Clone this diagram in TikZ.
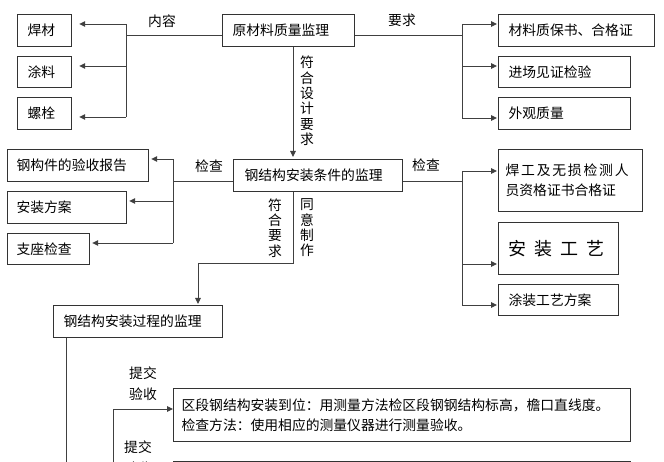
\documentclass[tikz,border=0pt]{standalone}
\usepackage{fontspec}
\newfontfamily\cjk{Noto Sans CJK SC}
\usetikzlibrary{arrows.meta}
\tikzset{
  box/.style={draw=black!80, line width=1.2pt, anchor=north west, inner xsep=10pt, inner ysep=0pt,
    align=left, font=\cjk\fontsize{13.8}{20}\selectfont},
  lbl/.style={inner sep=0pt, align=center, font=\cjk\fontsize{13.8}{21}\selectfont},
  vlbl/.style={inner sep=0pt, align=center, font=\cjk\fontsize{13.8}{15.4}\selectfont},
  ln/.style={draw=black!75, line width=0.9pt},
  arr/.style={ln, -{Triangle[length=6pt,width=5.5pt]}}
}
\begin{document}
\begin{tikzpicture}[x=1pt,y=-1pt]
\useasboundingbox (0,0) rectangle (664,462);
\fill[white] (0,0) rectangle (664,462);
\clip (0,0) rectangle (664,462);
% boxes
\node[box, minimum width=54pt, minimum height=32pt, text width=34pt] (hc) at (17,14) {焊材};
\node[box, minimum width=54pt, minimum height=31pt, text width=34pt] (tl) at (17,56) {涂料};
\node[box, minimum width=54pt, minimum height=32pt, text width=34pt] (ls) at (17,97) {螺栓};
\node[box, minimum width=132pt, minimum height=32pt, text width=112pt] (ycl) at (222,14) {原材料质量监理};
\node[box, minimum width=156pt, minimum height=32pt, text width=136pt] (zb) at (498,14) {材料质保书、合格证};
\node[box, minimum width=132pt, minimum height=31pt, text width=112pt] (jc) at (498,56) {进场见证检验};
\node[box, minimum width=132pt, minimum height=32pt, text width=112pt] (wg) at (498,97) {外观质量};
\node[box, minimum width=141pt, minimum height=32pt, text width=123pt, inner xsep=9pt] (gj) at (7,149) {钢构件的验收报告};
\node[box, minimum width=119pt, minimum height=32pt, text width=101pt, inner xsep=9pt] (az) at (7,191) {安装方案};
\node[box, minimum width=82pt, minimum height=31pt, text width=64pt, inner xsep=9pt] (zz) at (7,233) {支座检查};
\node[box, minimum width=169pt, minimum height=32pt, text width=147pt, inner xsep=11pt] (tj) at (233,159) {钢结构安装条件的监理};
\node[box, minimum width=144pt, minimum height=62pt, text width=130pt, inner xsep=7pt] (hg) at (498,149)
  {焊\hspace{1.8pt}工\hspace{1.8pt}及\hspace{1.8pt}无\hspace{1.8pt}损\hspace{1.8pt}检\hspace{1.8pt}测\hspace{1.8pt}人\\员资格证书合格证};
\node[box, minimum width=120pt, minimum height=52pt, text width=100pt, inner xsep=10pt] (gy) at (498,222)
  {\fontsize{18}{20}\selectfont 安\hspace{8pt}装\hspace{8pt}工\hspace{8pt}艺};
\node[box, minimum width=120pt, minimum height=31pt, text width=100pt] (tz) at (498,284) {涂装工艺方案};
\node[box, minimum width=169pt, minimum height=32pt, text width=149pt] (gc) at (53,305) {钢结构安装过程的监理};
\node[box, minimum width=457pt, minimum height=53pt, text width=441pt, inner xsep=8pt] (qd) at (173,388)
  {区段钢结构安装到位：用测量方法检区段钢钢结构标高，檐口直线度。\\检查方法：使用相应的测量仪器进行测量验收。};
\node[box, minimum width=457pt, minimum height=40pt, text width=437pt] (nx) at (173,461) {};
% labels
\node[lbl] (l1) at (162,21) {内容};
\node[lbl] (l2) at (402,20) {要求};
\node[lbl] (l3) at (209,166) {检查};
\node[lbl] (l4) at (426,165) {检查};
\node[vlbl] (v1) at (307,101) {符\\合\\设\\计\\要\\求};
\node[vlbl] (v2) at (275,228) {符\\合\\要\\求};
\node[vlbl] (v3) at (307,228) {同\\意\\制\\作};
\node[lbl] (s1) at (143,383.5) {提交\\验收};
\node[lbl] (s2) at (138,457.5) {提交\\验收};
% coordinates
\coordinate (L1) at (126,35); \coordinate (L1t) at (126,24); \coordinate (L1m) at (126,66); \coordinate (L1b) at (126,117);
\coordinate (R1) at (462,35); \coordinate (R1t) at (462,24); \coordinate (R1m) at (462,66); \coordinate (R1b) at (462,118);
\coordinate (D1) at (293,100);
\coordinate (L2) at (173,181); \coordinate (L2t) at (173,159); \coordinate (L2m) at (173,201); \coordinate (L2b) at (173,243);
\coordinate (R2) at (462,181); \coordinate (R2t) at (462,171); \coordinate (R2m) at (462,264); \coordinate (R2b) at (462,305);
\coordinate (T1) at (293,263); \coordinate (T2) at (198,263);
\coordinate (G1) at (66,475);
\coordinate (Q1) at (113,409); \coordinate (Q2) at (113,475);
% connectors
\draw[ln] (ycl.west|-L1) -- (L1);
\draw[ln] (L1t) -- (L1b);
\draw[arr, shorten >=7pt] (L1t) -- (hc.east|-L1t);
\draw[arr, shorten >=7pt] (L1m) -- (tl.east|-L1m);
\draw[arr, shorten >=7pt] (L1b) -- (ls.east|-L1b);
\draw[ln] (ycl.east|-R1) -- (R1);
\draw[ln] (R1t) -- (R1b);
\draw[arr, shorten >=1pt] (R1t) -- (zb.west|-R1t);
\draw[arr, shorten >=1pt] (R1m) -- (jc.west|-R1m);
\draw[arr, shorten >=1pt] (R1b) -- (wg.west|-R1b);
\draw[arr, shorten >=2pt] (ycl.south-|D1) -- (tj.north-|D1);
\draw[ln] (tj.west|-L2) -- (L2);
\draw[ln] (L2t) -- (L2b);
\draw[arr, shorten >=2pt] (L2t) -- (gj.east|-L2t);
\draw[arr, shorten >=2pt] (L2m) -- (az.east|-L2m);
\draw[arr, shorten >=2pt] (L2b) -- (zz.east|-L2b);
\draw[ln] (tj.east|-R2) -- (R2);
\draw[ln] (R2t) -- (R2b);
\draw[arr, shorten >=1pt] (R2t) -- (hg.west|-R2t);
\draw[arr, shorten >=1pt] (R2m) -- (gy.west|-R2m);
\draw[arr, shorten >=1pt] (R2b) -- (tz.west|-R2b);
\draw[ln] (tj.south-|T1) -- (T1) -- (T2);
\draw[arr, shorten >=1pt] (T2) -- (gc.north-|T2);
\draw[ln] (gc.south-|G1) -- (G1);
\draw[ln] (Q2) -- (Q1);
\draw[arr] (Q1) -- (qd.west|-Q1);
\end{tikzpicture}
\end{document}
